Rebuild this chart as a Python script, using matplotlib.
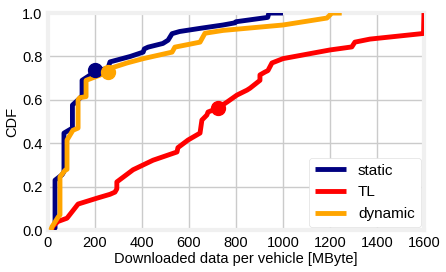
import numpy as np
from matplotlib import pyplot as plt

# CDF curves (x in MByte, y = CDF)
static_x = [20, 30, 30, 60, 68, 68, 104, 104, 136, 145, 145, 179, 230, 255, 264,
            350, 405, 410, 426, 489, 511, 528, 560, 650, 745, 796, 800, 935, 940, 1000]
static_y = [0.0, 0.01, 0.23, 0.255, 0.27, 0.447, 0.47, 0.576, 0.608, 0.62, 0.69, 0.714,
            0.74, 0.745, 0.775, 0.80, 0.82, 0.835, 0.843, 0.86, 0.875, 0.905, 0.915,
            0.93, 0.945, 0.955, 0.96, 0.98, 1.0, 1.0]

tl_x = [15, 21, 43, 81, 128, 208, 264, 285, 293, 293, 362, 447, 549, 553, 596, 647,
        655, 676, 681, 723, 762, 804, 847, 860, 902, 902, 923, 936, 953, 1000, 1200,
        1293, 1306, 1370, 1598, 1600]
tl_y = [0.0, 0.018, 0.04, 0.055, 0.12, 0.147, 0.165, 0.175, 0.19, 0.222, 0.278, 0.322,
        0.36, 0.38, 0.415, 0.447, 0.507, 0.53, 0.544, 0.562, 0.59, 0.622, 0.645, 0.654,
        0.69, 0.715, 0.728, 0.735, 0.77, 0.79, 0.83, 0.844, 0.866, 0.88, 0.906, 1.0]

dyn_x = [12, 17, 43, 51, 51, 72, 81, 81, 106, 128, 128, 135, 162, 162, 221, 255, 264,
         336, 405, 528, 540, 647, 668, 745, 1000, 1187, 1208, 1250]
dyn_y = [0.0, 0.015, 0.06, 0.07, 0.245, 0.275, 0.28, 0.415, 0.46, 0.47, 0.6, 0.61,
         0.615, 0.69, 0.714, 0.728, 0.745, 0.77, 0.79, 0.82, 0.843, 0.866, 0.907,
         0.92, 0.945, 0.977, 1.0, 1.0]

# highlighted points (x, CDF)
mark_x = {'static': 200, 'TL': 723, 'dynamic': 255}
mark_y = {'static': 0.737, 'TL': 0.562, 'dynamic': 0.728}

plt.style.use('fivethirtyeight')
plt.rcParams.update({
    'figure.facecolor': 'white',
    'axes.facecolor': 'white',
    'savefig.facecolor': 'white',
    'font.family': ['Liberation Sans', 'DejaVu Sans'],
    'font.size': 10,
})

fig = plt.figure(figsize=(4.46, 2.72), dpi=100)
ax = fig.add_axes([0.1076, 0.154, 0.843, 0.798])

colors = {'static': 'navy', 'TL': 'red', 'dynamic': 'orange'}
series = {'static': (static_x, static_y), 'TL': (tl_x, tl_y),
          'dynamic': (dyn_x, dyn_y)}

for name, (xs, ys) in series.items():
    ax.plot(xs, ys, color=colors[name], lw=3.5, label=name, zorder=3)
for name in series:
    ax.plot(mark_x[name], mark_y[name], 'o', color=colors[name], ms=10, zorder=4)

ax.set_xlim(0, 1600)
ax.set_ylim(0, 1.0)
ax.set_xticks(np.arange(0, 1601, 200))
ax.set_yticks(np.arange(0, 1.01, 0.2))
ax.tick_params(labelsize=10.5, length=0, pad=4)
ax.grid(True, color='#cbcbcb', lw=1)
ax.set_xlabel('Downloaded data per vehicle [MByte]', fontsize=10.5, labelpad=2)
ax.set_ylabel('CDF', fontsize=10.5, labelpad=2)

leg = ax.legend(loc='lower right', fontsize=11, handlelength=2.0, framealpha=1,
                facecolor='white', edgecolor='#e0e0e0', borderaxespad=0.2)

fig.savefig('out.png', dpi=100)
